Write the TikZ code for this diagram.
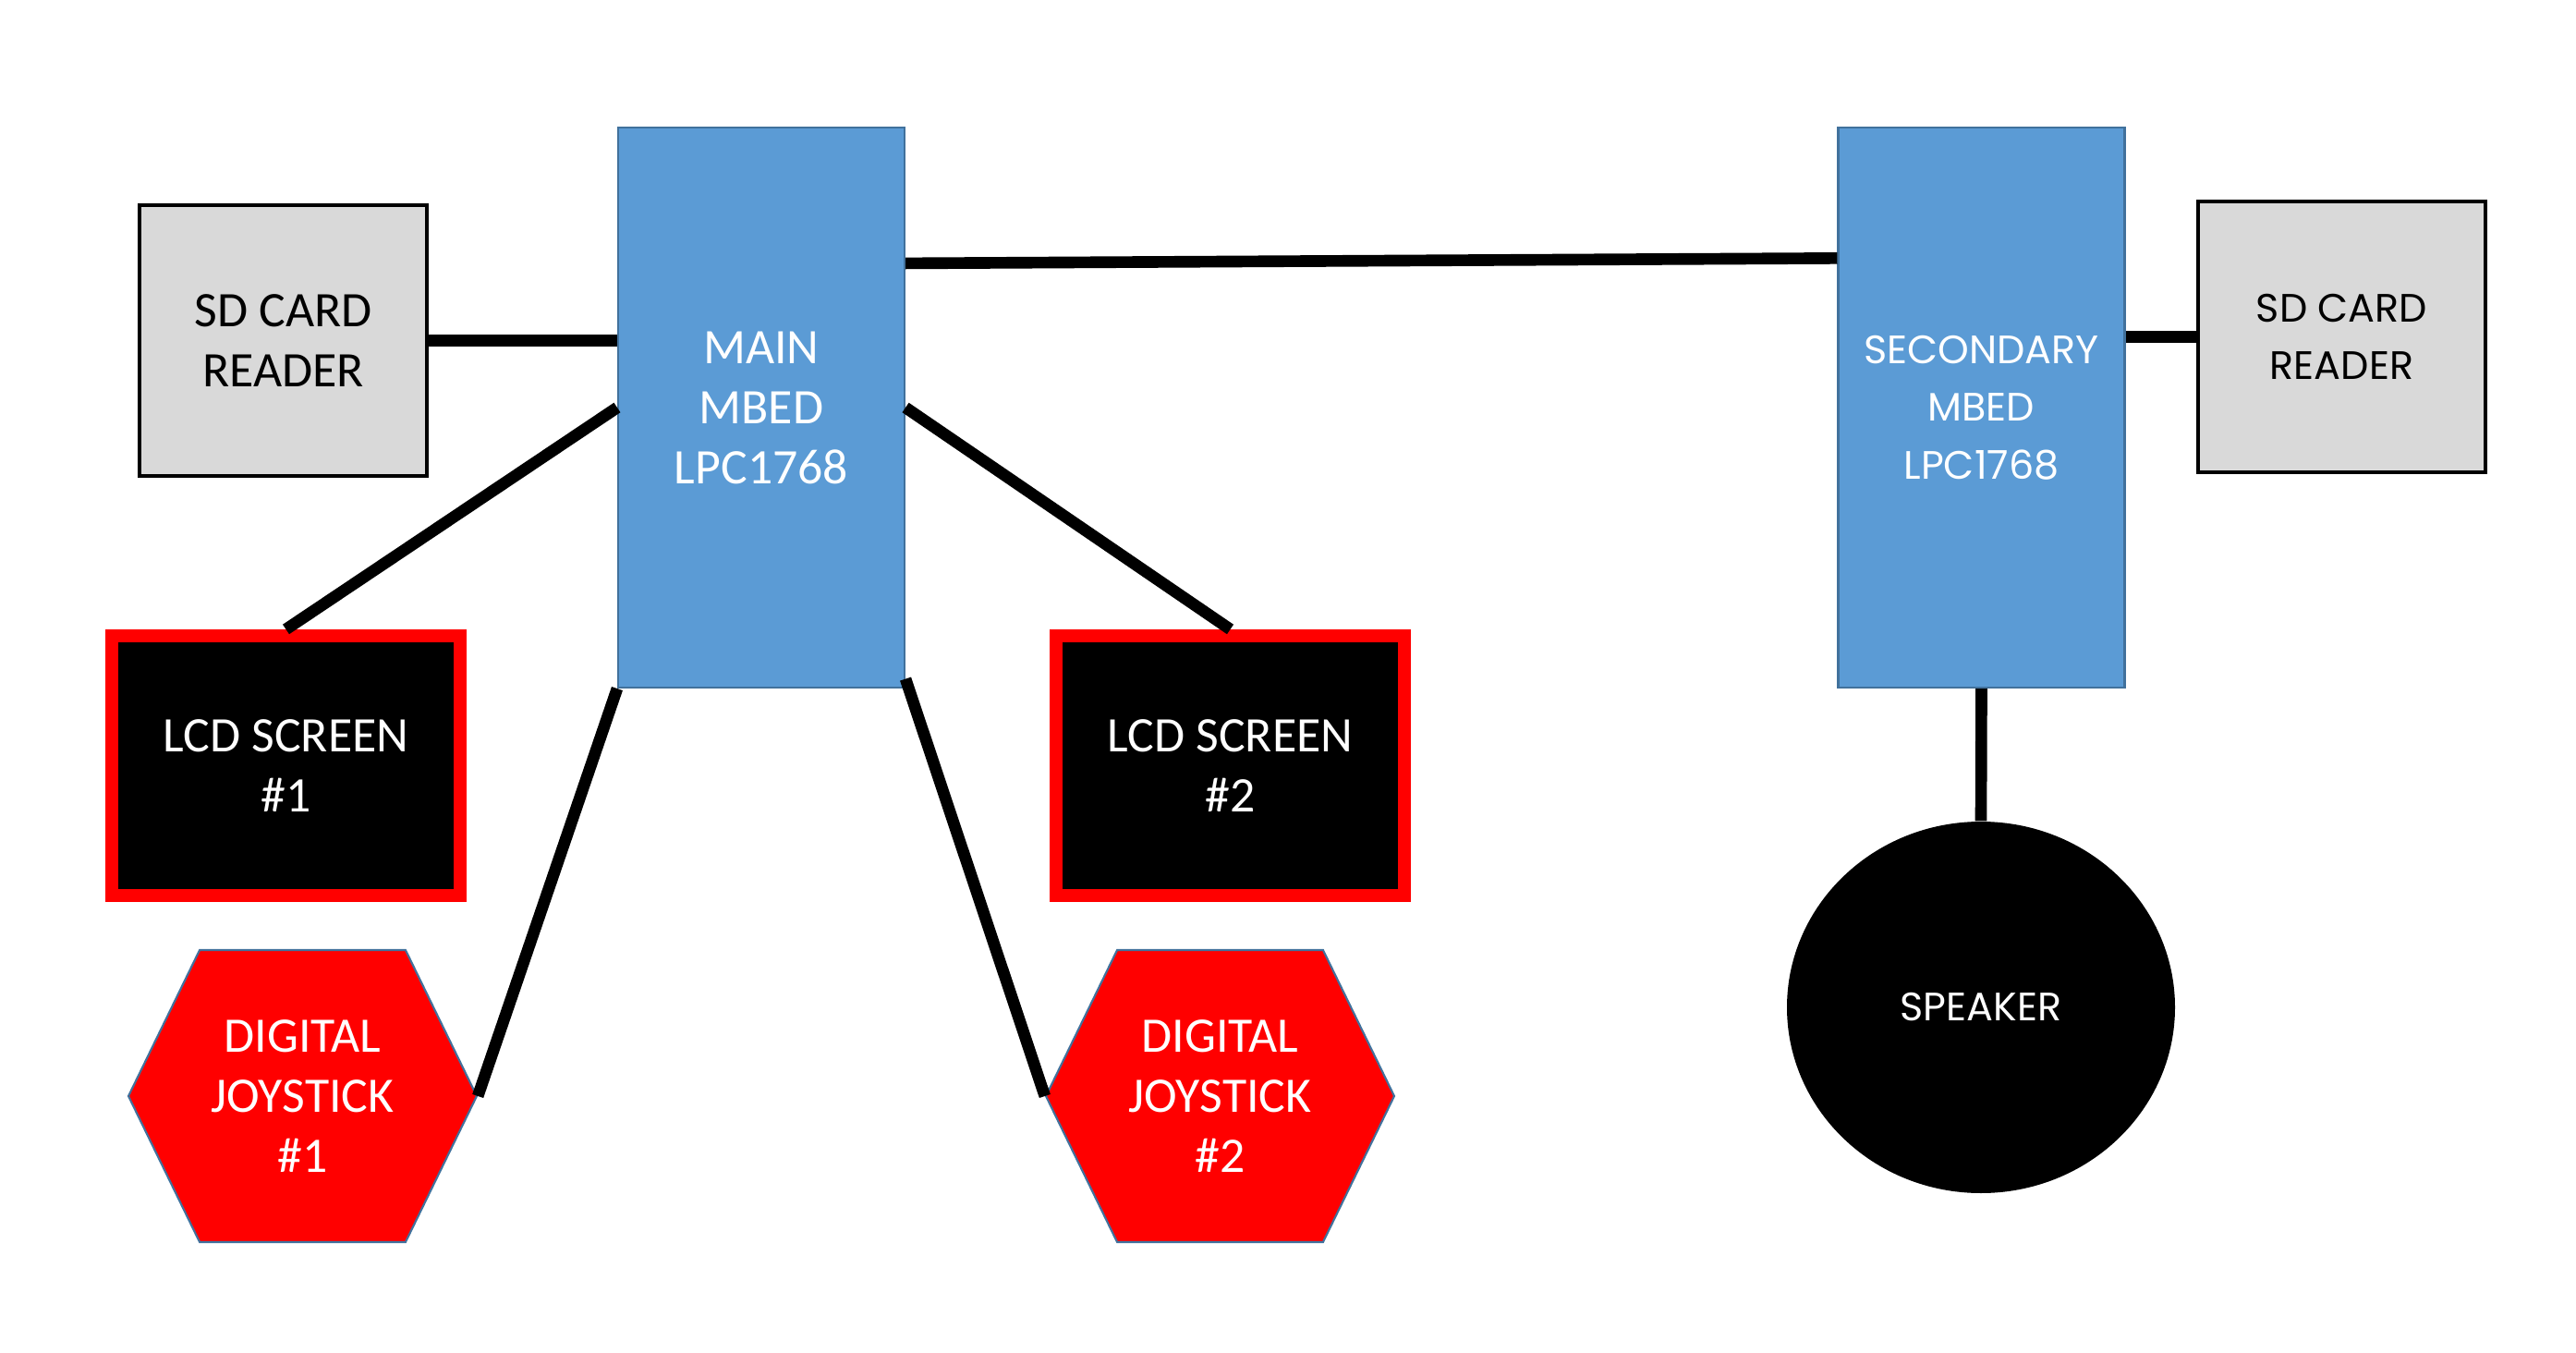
\documentclass[tikz,border=0pt]{standalone}
\usepackage{fontspec}
\setmainfont{Carlito}
\newfontfamily\wideFont{Poppins}
\usepackage{xcolor}
\usetikzlibrary{positioning, shapes.geometric, shapes.symbols}
\definecolor{mbedblue}{HTML}{5B9BD5}
\definecolor{mbededge}{HTML}{41719C}
\definecolor{cardgray}{HTML}{D9D9D9}
\definecolor{alarmred}{HTML}{FF0000}

\begin{document}
\begin{tikzpicture}[
  mbed/.style   = {draw=mbededge, line width=0.6pt, fill=mbedblue, text=white,
                   minimum width=3.1cm, minimum height=6.06cm, align=center,
                   inner sep=0pt},
  card/.style   = {draw=black, line width=1.1pt, fill=cardgray,
                   minimum width=3.11cm, minimum height=2.93cm, align=center,
                   inner sep=0pt},
  lcd/.style    = {draw=alarmred, line width=4pt, fill=black, text=white,
                   minimum width=3.77cm, minimum height=2.81cm, align=center,
                   inner sep=0pt},
  joy/.style    = {shape=signal, signal to=west and east,
                   signal pointer angle=128, draw=mbededge, line width=0.6pt,
                   fill=alarmred, text=white, minimum width=3.77cm,
                   minimum height=3.16cm, align=center, inner sep=0pt},
  wire/.style   = {line width=3.6pt},
  leftfont/.style  = {font=\fontsize{15.3}{18.5}\selectfont},
  rightfont/.style = {font=\wideFont\fontsize{12.2}{17.8}\selectfont},
]
\useasboundingbox (0,0) rectangle (27.88,-14.64);

% Main board and its parts
\node[mbed, leftfont] (main) at (8.24,-4.41) {MAIN\\MBED\\LPC1768};
\node[card, leftfont] (sdL)  at (3.065,-3.685) {SD CARD\\READER};
\node[lcd, leftfont]  (lcd1) at (3.095,-8.285) {LCD SCREEN\\\#1};
\node[lcd, leftfont]  (lcd2) at (13.315,-8.285) {LCD SCREEN\\\#2};
\node[joy, leftfont]  (joy1) at (3.275,-11.86) {DIGITAL\\JOYSTICK\\\#1};
\node[joy, leftfont]  (joy2) at (13.205,-11.86) {DIGITAL\\JOYSTICK\\\#2};

% Secondary board and its parts
\node[mbed, rightfont] (sec) at (21.445,-4.41) {SECONDARY\\MBED\\LPC1768};
\node[card, rightfont] (sdR) at (25.345,-3.645) {SD CARD\\READER};
\node[ellipse, fill=black, text=white, rightfont, minimum width=4.2cm,
      minimum height=4.02cm] (spk) at (21.44,-10.9) {SPEAKER};

% Wires
\draw[wire] (sdL.east) -- (sdL.east -| main.west);
\draw[wire] (main.45) -- (sec.134);
\draw[wire] (sdR.west -| sec.east) -- (sdR.west);
\draw[wire] (main.west) -- (lcd1.north);
\draw[wire] (main.east) -- (lcd2.north);
\draw[wire] (main.south west) -- (joy1.east);
\draw[wire] (main.-62) -- (joy2.west);
\draw[wire] (sec.south) -- (spk.north);

\end{tikzpicture}
\end{document}
